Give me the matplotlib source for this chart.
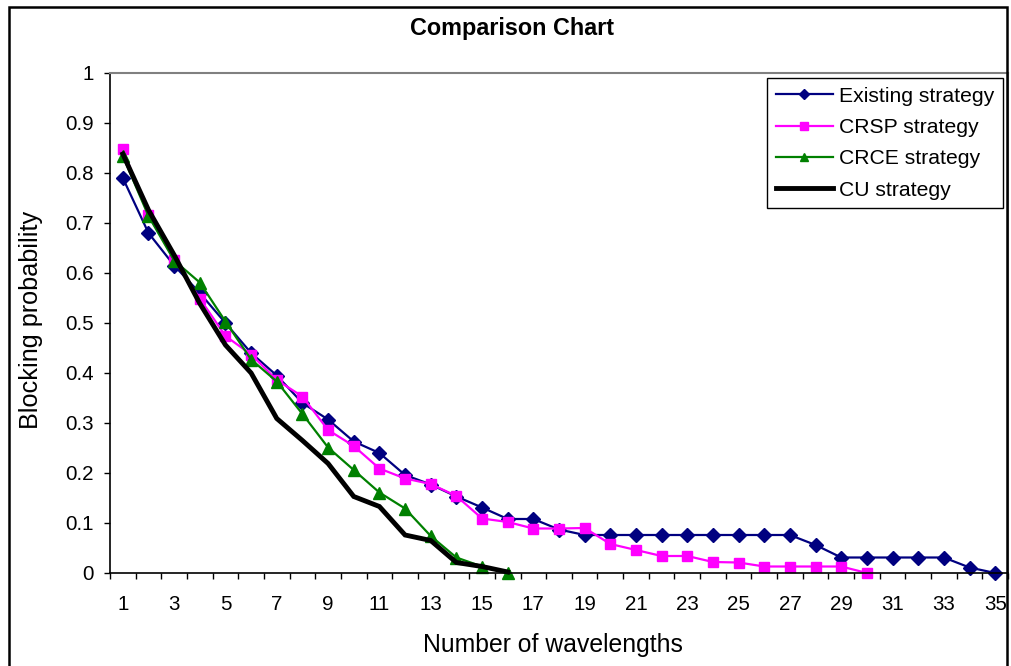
import matplotlib
matplotlib.use("Agg")
import matplotlib.pyplot as plt
from matplotlib.patches import Rectangle
from matplotlib.ticker import FixedLocator

plt.rcParams['font.family'] = ['Liberation Sans', 'DejaVu Sans']

# blocking probability vs number of wavelengths, per strategy
existing_x = list(range(1, 36))
existing = [0.79, 0.68, 0.615, 0.56, 0.50, 0.44, 0.395, 0.34, 0.307, 0.263,
            0.24, 0.196, 0.177, 0.153, 0.131, 0.108, 0.108, 0.087, 0.076, 0.076,
            0.076, 0.076, 0.076, 0.076, 0.076, 0.076, 0.076, 0.056, 0.031, 0.031,
            0.031, 0.031, 0.031, 0.011, 0.0]

crsp_x = list(range(1, 31))
crsp = [0.848, 0.716, 0.627, 0.549, 0.474, 0.437, 0.386, 0.353, 0.286, 0.254,
        0.209, 0.189, 0.178, 0.154, 0.109, 0.102, 0.089, 0.089, 0.09, 0.058,
        0.046, 0.034, 0.034, 0.022, 0.021, 0.013, 0.013, 0.013, 0.013, 0.0]

crce_x = list(range(1, 17))
crce = [0.834, 0.714, 0.625, 0.581, 0.503, 0.427, 0.383, 0.318, 0.251, 0.206,
        0.161, 0.129, 0.074, 0.031, 0.013, 0.0]

cu_x = list(range(1, 17))
cu = [0.838, 0.726, 0.636, 0.539, 0.456, 0.400, 0.309, 0.265, 0.219, 0.153,
      0.133, 0.076, 0.065, 0.021, 0.013, 0.002]

xtick_labels = [str(i) for i in range(1, 36, 2)]
ytick_vals = [i / 10 for i in range(11)]
ytick_labels = ['0', '0.1', '0.2', '0.3', '0.4', '0.5', '0.6', '0.7', '0.8', '0.9', '1']

fig = plt.figure(figsize=(10.12, 6.66), dpi=100)
ax = fig.add_axes([110 / 1012, 1 - 573 / 666, 898 / 1012, 500 / 666])

ax.plot(existing_x, existing, color='#000080', lw=1.6, marker='D', ms=7.2,
        label='Existing strategy', clip_on=False)
ax.plot(crsp_x, crsp, color='#FF00FF', lw=1.6, marker='s', ms=7,
        label='CRSP strategy', clip_on=False)
ax.plot(crce_x, crce, color='#008000', lw=1.6, marker='^', ms=8,
        label='CRCE strategy', clip_on=False)
ax.plot(cu_x, cu, color='black', lw=3.5, label='CU strategy',
        solid_joinstyle='miter', clip_on=False)

ax.set_xlim(0.5, 35.5)
ax.set_ylim(0, 1)

# labels on odd categories, tick marks between categories
ax.xaxis.set_major_locator(FixedLocator(range(1, 36, 2)))
ax.set_xticklabels(xtick_labels)
ax.xaxis.set_minor_locator(FixedLocator([i + 0.5 for i in range(0, 36)]))
ax.tick_params(axis='x', which='major', length=0, pad=16, labelsize=14.8)
ax.tick_params(axis='x', which='minor', length=4.5, width=1, direction='out')

ax.set_yticks(ytick_vals)
ax.set_yticklabels(ytick_labels)
ax.tick_params(axis='y', length=4.5, width=1, direction='out', pad=7, labelsize=14.8)

for side in ['left', 'bottom']:
    ax.spines[side].set_color('black')
    ax.spines[side].set_linewidth(1.2)
for side in ['top', 'right']:
    ax.spines[side].set_color('#808080')
    ax.spines[side].set_linewidth(1.5)

fig.text(512 / 1012, 1 - 29 / 666, 'Comparison Chart', ha='center', va='center',
         fontsize=16.8, fontweight='bold')
fig.text(31 / 1012, 1 - 320 / 666, 'Blocking probability', ha='center', va='center',
         rotation=90, fontsize=18.2)
fig.text(553 / 1012, 1 - 645 / 666, 'Number of wavelengths', ha='center', va='center',
         fontsize=17.8)

leg = ax.legend(loc='upper right', bbox_to_anchor=(1003 / 1012, 1 - 78 / 666),
                bbox_transform=fig.transFigure, fontsize=15.2, frameon=True,
                fancybox=False, edgecolor='black', framealpha=1,
                handlelength=2.7, handletextpad=0.3, labelspacing=0.58,
                borderpad=0.42, borderaxespad=0, markerscale=0.75)
leg.get_frame().set_linewidth(1.0)

# outer chart border
fig.patches.append(Rectangle((9 / 1012, -0.05), 998 / 1012, 1.05 - 7 / 666,
                             transform=fig.transFigure, fill=False,
                             edgecolor='black', lw=1.8))

fig.savefig('out.png', dpi=100)
